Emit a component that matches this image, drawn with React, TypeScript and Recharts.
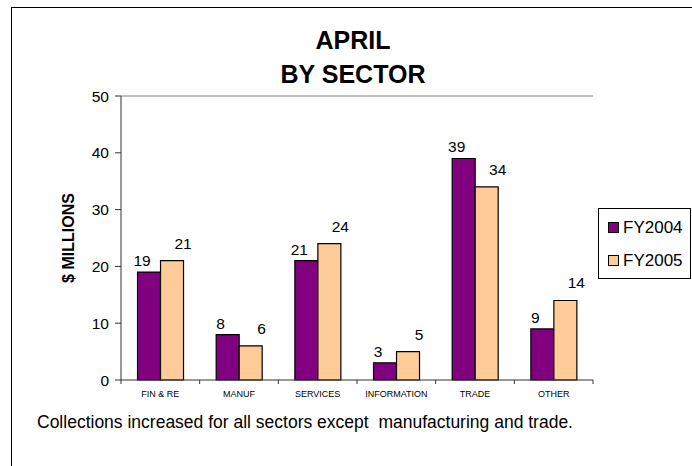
import { BarChart, Bar, XAxis, YAxis, Legend, LabelList, ReferenceLine } from 'recharts'

const sectors = ['FIN & RE', 'MANUF', 'SERVICES', 'INFORMATION', 'TRADE', 'OTHER']
const fy2004 = [19, 8, 21, 3, 39, 9]
const fy2005 = [21, 6, 24, 5, 34, 14]
const yTicks = [0, 10, 20, 30, 40, 50]

const PURPLE = '#800080'
const PEACH = '#FFCC99'
const FONT = '"Liberation Sans", Arial, sans-serif'

const data = sectors.map((s, i) => ({ sector: s, FY2004: fy2004[i], FY2005: fy2005[i] }))

// plot spans x 121..593
const PLOT_W = 472

function SectorTick(props: any) {
  const { x, y, payload, index } = props
  const step = PLOT_W / sectors.length
  const left = x - step / 2
  return (
    <g>
      <line x1={left} y1={y - 8} x2={left} y2={y - 4} stroke="#333" />
      {index === sectors.length - 1 && (
        <line x1={left + step} y1={y - 8} x2={left + step} y2={y - 4} stroke="#333" />
      )}
      <text x={x} y={y + 9} textAnchor="middle" fontSize={9} fontFamily={FONT} fill="#000">
        {payload.value}
      </text>
    </g>
  )
}

function LegendBox() {
  const items = [
    { name: 'FY2004', color: PURPLE },
    { name: 'FY2005', color: PEACH },
  ]
  return (
    <div style={{ border: '1px solid #000', background: '#fff', height: 67, padding: '2px 0 0 9px', boxSizing: 'content-box', fontFamily: FONT, fontSize: 17 }}>
      {items.map(it => (
        <div key={it.name} style={{ display: 'flex', alignItems: 'center', height: 33 }}>
          <span style={{ width: 9, height: 9, background: it.color, border: '1px solid #000', marginRight: 4 }} />
          <span>{it.name}</span>
        </div>
      ))}
    </div>
  )
}

export default function App() {
  return (
    <div style={{ position: 'absolute', left: 0, top: 0, width: 692, height: 466, background: '#fff', fontFamily: FONT, overflow: 'hidden' }}>
      <div style={{ position: 'absolute', left: 11, top: 7, width: 700, height: 500, borderLeft: '1px solid #000', borderTop: '1px solid #000' }} />
      <div style={{ position: 'absolute', left: 253, width: 200, top: 23, textAlign: 'center', fontWeight: 'bold', fontSize: 25, lineHeight: '34px' }}>
        APRIL<br />BY SECTOR
      </div>
      <div style={{ position: 'absolute', left: 0, top: 0 }}>
        <BarChart
          width={692}
          height={466}
          data={data}
          margin={{ top: 96, right: 99, bottom: 56, left: 61 }}
          barCategoryGap="21%"
          barGap={0}
        >
          <ReferenceLine y={50} stroke="#808080" />
          <XAxis
            dataKey="sector"
            tickLine={false}
            tick={<SectorTick />}
            axisLine={{ stroke: '#333' }}
            height={30}
            interval={0}
          />
          <YAxis
            domain={[0, 50]}
            ticks={yTicks}
            tickLine={{ stroke: '#333' }}
            tickSize={6}
            tickMargin={6}
            axisLine={{ stroke: '#333' }}
            tick={{ fill: '#000', fontSize: 15.5, fontFamily: FONT }}
            width={60}
            label={{ value: '$ MILLIONS', angle: -90, position: 'insideLeft', dx: 2, fill: '#000', fontSize: 16, fontWeight: 'bold', fontFamily: FONT, style: { textAnchor: 'middle' } }}
          />
          <YAxis yAxisId="r" orientation="right" tick={false} tickLine={false} axisLine={{ stroke: '#808080' }} width={0} />
          <Legend
            layout="vertical"
            align="center"
            verticalAlign="middle"
            content={<LegendBox />}
            wrapperStyle={{ left: 598, top: 208, width: 93 }}
          />
          <Bar dataKey="FY2004" fill={PURPLE} stroke="#000" strokeWidth={1.2} isAnimationActive={false}>
            <LabelList dataKey="FY2004" position="top" offset={6} dx={-7} fill="#000" fontSize={15.5} fontFamily={FONT} />
          </Bar>
          <Bar dataKey="FY2005" fill={PEACH} stroke="#000" strokeWidth={1.2} isAnimationActive={false}>
            <LabelList dataKey="FY2005" position="top" offset={12} dx={11} fill="#000" fontSize={15.5} fontFamily={FONT} />
          </Bar>
        </BarChart>
      </div>
      <div style={{ position: 'absolute', left: 37, top: 412, fontSize: 17.5, whiteSpace: 'pre' }}>
        Collections increased for all sectors except  manufacturing and trade.
      </div>
    </div>
  )
}
